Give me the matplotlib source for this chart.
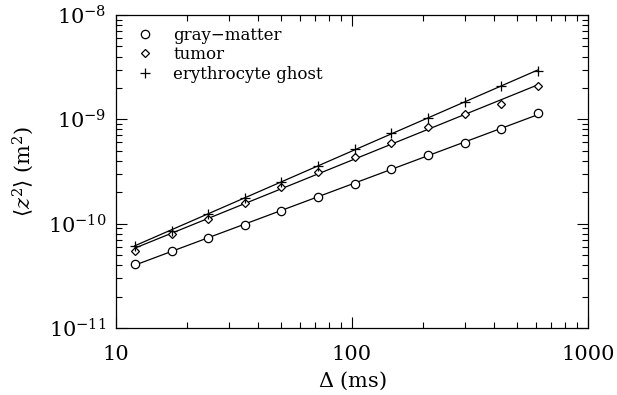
import numpy as np
import matplotlib
matplotlib.use('Agg')
import matplotlib.pyplot as plt
from matplotlib.ticker import LogLocator, FuncFormatter, NullFormatter

# diffusion times (ms)
delta_ms = [12.0, 17.2, 24.5, 35.1, 50.2, 71.7, 102.6, 146.7, 209.8, 300.0, 429.0, 614.0]

# mean squared displacement (m^2)
gray_matter = [4.10e-11, 5.50e-11, 7.28e-11, 9.70e-11, 1.33e-10, 1.79e-10,
               2.40e-10, 3.32e-10, 4.55e-10, 5.97e-10, 8.02e-10, 1.16e-9]
tumor = [5.46e-11, 7.89e-11, 1.11e-10, 1.58e-10, 2.23e-10, 3.13e-10,
         4.38e-10, 5.97e-10, 8.38e-10, 1.12e-9, 1.40e-9, 2.08e-9]
ery_ghost = [6.14e-11, 8.55e-11, 1.24e-10, 1.77e-10, 2.52e-10, 3.61e-10,
             5.15e-10, 7.35e-10, 1.04e-9, 1.47e-9, 2.08e-9, 2.92e-9]

series = [
    ('gray\u2212matter', gray_matter, 'o', 6.0),
    ('tumor', tumor, 'D', 4.3),
    ('erythrocyte ghost', ery_ghost, '+', 6.5),
]

plt.rcParams['font.family'] = 'DejaVu Serif'
plt.rcParams['mathtext.fontset'] = 'dejavuserif'

fig = plt.figure(figsize=(6.17, 3.95), dpi=100)
ax = fig.add_axes([116 / 617, 1 - 328 / 395, (588 - 116) / 617, (328 - 15) / 395])

x = np.array(delta_ms)
for label, vals, mk, ms in series:
    y = np.array(vals)
    # power-law fit in log-log space
    p = np.polyfit(np.log10(x), np.log10(y), 1)
    xf = np.array([x[0], x[-1]])
    ax.plot(xf, 10 ** np.polyval(p, np.log10(xf)), color='black', lw=0.9)
    ax.plot(x, y, linestyle='none', marker=mk, ms=ms, mfc='white', mec='black',
            mew=0.9, label=label)

ax.set_xscale('log')
ax.set_yscale('log')
ax.set_xlim(10, 1000)
ax.set_ylim(1e-11, 1e-8)

ax.xaxis.set_major_formatter(FuncFormatter(lambda v, p: f'{v:g}'))
ax.xaxis.set_minor_formatter(NullFormatter())
ax.yaxis.set_minor_formatter(NullFormatter())
ax.yaxis.set_minor_locator(LogLocator(base=10, subs=np.arange(2, 10)))
ax.xaxis.set_minor_locator(LogLocator(base=10, subs=np.arange(2, 10)))

ax.tick_params(which='both', direction='in', top=True, right=True, width=0.8,
               labelsize=15)
ax.tick_params(which='major', length=8)
ax.tick_params(axis='x', which='major', pad=12)
ax.tick_params(axis='y', which='major', pad=7)
ax.tick_params(which='minor', length=4)
for s in ax.spines.values():
    s.set_linewidth(0.9)

ax.set_xlabel(r'$\Delta$ (ms)', fontsize=15, labelpad=4)
ax.set_ylabel(r'$\langle z^2 \rangle$ (m$^2$)', fontsize=15, labelpad=8)

ax.legend(loc='upper left', bbox_to_anchor=(0.015, 1.0), frameon=False,
          fontsize=12, handlelength=1.2, handletextpad=1.1, labelspacing=0.15,
          borderaxespad=0.3)

fig.savefig('out.png', dpi=100)
